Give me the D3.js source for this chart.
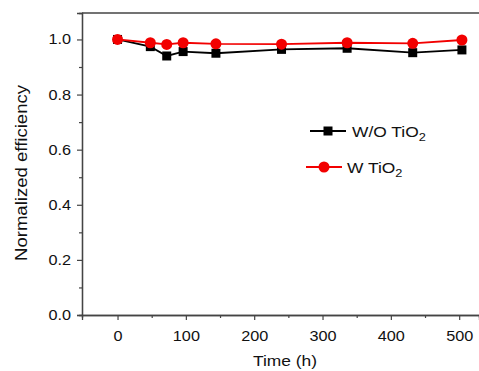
<!DOCTYPE html>
<html>
<head>
<meta charset="utf-8">
<script src="https://cdn.jsdelivr.net/npm/d3@7"></script>
<style>
  body { margin: 0; background: #fff; }
  text { font-family: "Liberation Sans", Arial, sans-serif; fill: #111; }
</style>
</head>
<body>
<svg id="chart" width="479" height="371"></svg>
<script>
// data
const hours = [0, 48, 72, 96, 144, 240, 336, 432, 504]
const withoutTiO2 = [1.0, 0.974, 0.94, 0.956, 0.95, 0.964, 0.968, 0.952, 0.962]
const withTiO2 = [1.0, 0.988, 0.982, 0.988, 0.984, 0.983, 0.988, 0.986, 0.998]
const xTicks = [0, 100, 200, 300, 400, 500]
const yTicks = [0, 0.2, 0.4, 0.6, 0.8, 1.0]

const svg = d3.select('#chart')
const mLeft = 82, mRight = 479, mTop = 13, mBottom = 315
const axisColor = '#444'
const wide = 1.16 // the original font is a bit wider than Arial

// stretch text horizontally
function stretch (sel) {
  sel.each(function () {
    const w = this.getComputedTextLength()
    d3.select(this).attr('textLength', w * wide).attr('lengthAdjust', 'spacingAndGlyphs')
  })
}

const x = d3.scaleLinear().domain([-52, 529]).range([mLeft, mRight])
const y = d3.scaleLinear().domain([0, 1.096]).range([mBottom, mTop])

// frame top line
svg.append('line').attr('x1', mLeft).attr('x2', mRight).attr('y1', mTop).attr('y2', mTop)
  .attr('stroke', axisColor).attr('stroke-width', 1.3)

// minor ticks
const gx = svg.append('g').attr('transform', `translate(0,${mBottom})`)
gx.call(d3.axisBottom(x).tickValues([50, 150, 250, 350, 450]).tickSize(3).tickFormat(''))
const gy = svg.append('g').attr('transform', `translate(${mLeft},0)`)
gy.call(d3.axisLeft(y).tickValues([0.1, 0.3, 0.5, 0.7, 0.9]).tickSize(3).tickFormat(''))

// major ticks
const gx2 = svg.append('g').attr('transform', `translate(0,${mBottom})`)
gx2.call(d3.axisBottom(x).tickValues(xTicks).tickSize(5).tickPadding(11).tickFormat(d3.format('d')))
const gy2 = svg.append('g').attr('transform', `translate(${mLeft},0)`)
gy2.call(d3.axisLeft(y).tickValues(yTicks).tickSize(5).tickPadding(6).tickFormat(d3.format('.1f')))

svg.selectAll('.domain').attr('stroke', axisColor).attr('stroke-width', 1.3)
svg.selectAll('.tick line').attr('stroke', axisColor).attr('stroke-width', 1.2)
svg.selectAll('.tick text').attr('fill', '#111').style('font-size', '14px')
  .style('font-family', '"Liberation Sans", Arial, sans-serif')
  .call(stretch)

// axis titles
svg.append('text').attr('x', 285).attr('y', 366).attr('text-anchor', 'middle')
  .style('font-size', '15px').text('Time (h)').call(stretch)
svg.append('text').attr('transform', 'translate(27,173) rotate(-90)').attr('text-anchor', 'middle')
  .style('font-size', '16px').text('Normalized efficiency').call(stretch)

const line = d3.line().x((d, i) => x(hours[i])).y(d => y(d))

// black series
svg.append('path').datum(withoutTiO2).attr('d', line)
  .attr('fill', 'none').attr('stroke', '#000').attr('stroke-width', 1.8)
svg.append('g').selectAll('rect').data(withoutTiO2).enter().append('rect')
  .attr('x', (d, i) => x(hours[i]) - 4.5).attr('y', d => y(d) - 4.5)
  .attr('width', 9).attr('height', 9).attr('fill', '#000')

// red series
svg.append('path').datum(withTiO2).attr('d', line)
  .attr('fill', 'none').attr('stroke', '#f20000').attr('stroke-width', 1.8)
svg.append('g').selectAll('circle').data(withTiO2).enter().append('circle')
  .attr('cx', (d, i) => x(hours[i])).attr('cy', d => y(d))
  .attr('r', 5.5).attr('fill', '#f20000')

// legend
const legend = [
  { label: 'W/O TiO', color: '#000', shape: 'rect', lx: 310, ly: 131, tx: 352 },
  { label: 'W TiO', color: '#f20000', shape: 'circle', lx: 306, ly: 167, tx: 347 }
]
legend.forEach(l => {
  const g = svg.append('g')
  g.append('line').attr('x1', l.lx).attr('x2', l.lx + 36).attr('y1', l.ly).attr('y2', l.ly)
    .attr('stroke', l.color).attr('stroke-width', 2)
  if (l.shape === 'rect') {
    g.append('rect').attr('x', l.lx + 18 - 4.5).attr('y', l.ly - 4.5).attr('width', 9).attr('height', 9).attr('fill', l.color)
  } else {
    g.append('circle').attr('cx', l.lx + 18).attr('cy', l.ly).attr('r', 5.5).attr('fill', l.color)
  }
  const t = g.append('text').attr('transform', `translate(${l.tx},${l.ly + 5.5}) scale(${wide},1)`)
    .style('font-size', '15px').text(l.label)
  t.append('tspan').attr('dy', 4).style('font-size', '11px').text('2')
})
</script>
</body>
</html>
